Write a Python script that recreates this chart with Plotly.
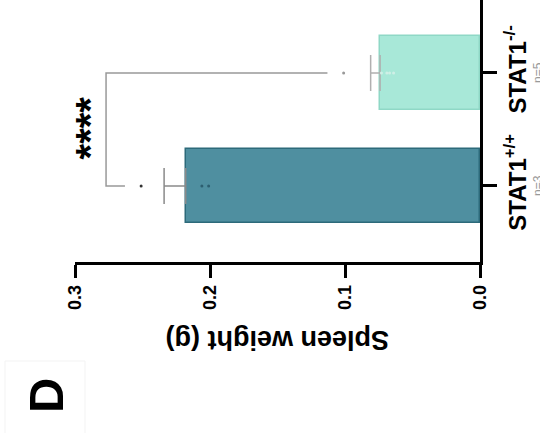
import plotly.graph_objects as go

categories = ["STAT1<sup>+/+</sup>", "STAT1<sup>-/-</sup>"]
n_labels = ["n=3", "n=5"]
means = [0.218, 0.074]
sem = [0.016, 0.007]
points_wt = [0.251, 0.206, 0.201]
points_ko = [0.101, 0.073, 0.069, 0.067, 0.064]
x_ticks = [0.0, 0.1, 0.2, 0.3]
x_ticktext = ["0.0", "0.1", "0.2", "0.3"]
bracket_x = [0.263, 0.277, 0.277, 0.113]
bracket_y = [0, 0, 1, 1]

bar_fill = ["#4F8FA0", "#A8E8D8"]
bar_line = ["#2D6A7A", "#8FD8C6"]
err_col = ["#8A8A8A", "#B0B0B0"]
FONT = "Arial, Liberation Sans, sans-serif"

fig = go.Figure()
pos = [0, 1]
for i in range(2):
    fig.add_trace(go.Bar(
        x=[means[i]], y=[pos[i]], orientation="h", width=0.65,
        marker=dict(color=bar_fill[i], line=dict(color=bar_line[i], width=1.5)),
        error_x=dict(type="data", symmetric=False, array=[sem[i]], arrayminus=[0],
                     color=err_col[i], thickness=1.5, width=18),
        showlegend=False))

fig.add_trace(go.Scatter(x=points_wt, y=[0] * len(points_wt), mode="markers",
                         marker=dict(size=3, color=["#333333", "#2D5F70", "#2D5F70"]),
                         showlegend=False))
fig.add_trace(go.Scatter(x=points_ko, y=[1] * len(points_ko), mode="markers",
                         marker=dict(size=3, color=["#999999"] + ["#CFEFE6"] * 4),
                         showlegend=False))
fig.add_trace(go.Scatter(x=bracket_x, y=bracket_y, mode="lines",
                         line=dict(color="#999999", width=1.5), showlegend=False))

fig.update_layout(
    width=540, height=433, paper_bgcolor="white", plot_bgcolor="white",
    margin=dict(l=75, r=60, t=0, b=171),
    font=dict(family=FONT, color="black"),
    bargap=0,
    xaxis=dict(range=[0.3, 0.0], tickvals=x_ticks, ticktext=x_ticktext,
               tickangle=-90, showgrid=False, zeroline=False,
               showline=True, linecolor="black", linewidth=2.5,
               ticks="outside", ticklen=13, tickwidth=2.5, tickcolor="black",
               tickfont=dict(size=18, family=FONT, color="black", weight="bold")),
    yaxis=dict(range=[-0.673, 1.646], tickvals=pos, ticktext=categories,
               side="right", tickangle=-90, showgrid=False, zeroline=False,
               showline=True, linecolor="black", linewidth=2.5,
               ticks="outside", ticklen=14, tickwidth=2.5, tickcolor="black",
               tickfont=dict(size=24, family=FONT, color="black", weight="bold")),
)

W, H = 540, 433
L, R, T, B = 75, 60, 0, 171
pw, ph = W - L - R, H - T - B


def px2paper(px, py):
    return (px - L) / pw, (H - B - py) / ph


tx, ty = px2paper(277, 340)
dx, dy = px2paper(46, 396)
annotations = [
    dict(x=0.2886, y=0.513, xref="x", yref="y", text="<b>****</b>", textangle=-90,
         xanchor="center", yanchor="middle",
         showarrow=False, font=dict(size=40, family=FONT, color="black")),
    dict(x=tx, y=ty, xref="paper", yref="paper", text="<b>Spleen weight (g)</b>",
         xanchor="center", yanchor="middle",
         textangle=180, showarrow=False, font=dict(size=27, family=FONT, color="black")),
    dict(x=dx, y=dy, xref="paper", yref="paper", text="<b>D</b>", textangle=-90,
         xanchor="center", yanchor="middle", showarrow=False,
         font=dict(size=49, family=FONT, color="black")),
]
for i, lab in enumerate(n_labels):
    annotations.append(dict(x=1, y=pos[i], xref="paper", yref="y", text=lab,
                            textangle=-90, showarrow=False, xanchor="center",
                            yanchor="middle",
                            xshift=58, font=dict(size=12, family=FONT, color="#999999")))
fig.update_layout(annotations=annotations)

rx0, ry0 = px2paper(5, 361)
rx1, ry1 = px2paper(85, 440)
fig.add_shape(type="rect", xref="paper", yref="paper",
              x0=rx0, x1=rx1, y0=ry0, y1=ry1,
              line=dict(color="#F3F3F3", width=1))

fig.write_html("out.html", config={"displayModeBar": False},
               post_script="document.body.style.margin='0';document.body.style.overflow='hidden';")
